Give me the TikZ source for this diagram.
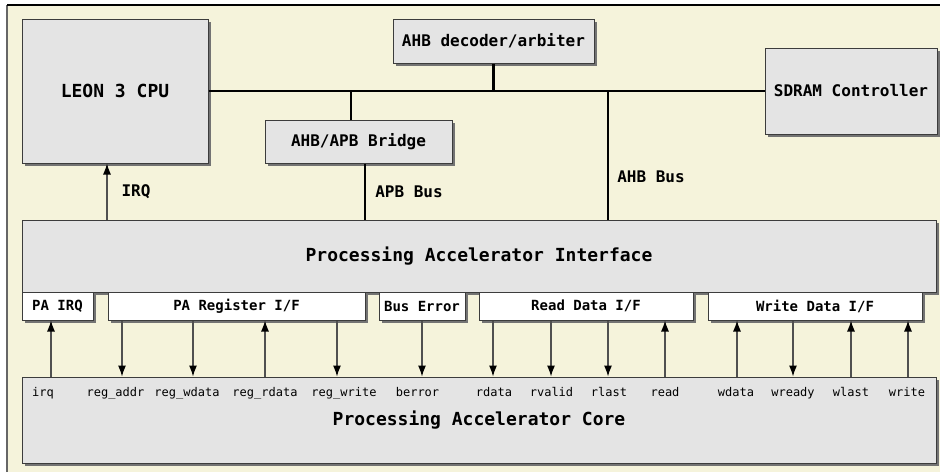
\documentclass[tikz,border=0pt]{standalone}
\usepackage{fontspec}
\setmainfont{DejaVu Sans Mono}
\setmonofont{DejaVu Sans Mono}
\usepackage{xcolor}
\usepackage{tikz}
\usetikzlibrary{arrows.meta, positioning, calc, shadows}
\definecolor{PACream}{HTML}{F5F3DB}
\definecolor{PAGrey}{HTML}{E4E4E4}
\definecolor{PAEdge}{HTML}{3C3C3C}
\definecolor{PAWire}{HTML}{505050}

\begin{document}
\begin{tikzpicture}[x=1pt, y=-1pt, >={Latex[length=11pt,width=8pt,color=black]}]
    \tikzstyle{block} = [rectangle, draw=PAEdge, fill=PAGrey, line width=1pt, align=center, inner sep=0pt, font=\fontsize{16}{18}\selectfont\bfseries, drop shadow={shadow xshift=2.6pt, shadow yshift=-2.6pt, fill=black!55, opacity=1}]
    \tikzstyle{bigblock} = [block, font=\fontsize{18}{20}\selectfont\bfseries]
    \tikzstyle{port} = [block, fill=white, font=\fontsize{14}{16}\selectfont\bfseries]
    \tikzstyle{bus} = [draw, line width=2.6pt, black]
    \tikzstyle{sig} = [draw, line width=1.2pt, PAWire]
    \tikzstyle{buslabel} = [right, inner sep=0pt, text=black, font=\fontsize{16}{18}\selectfont\bfseries]
    \tikzstyle{siglabel} = [anchor=base, inner sep=0pt, font=\fontsize{12}{14}\selectfont]

    \useasboundingbox (0,0) rectangle (940,472);
    \fill[PACream] (7,5) rectangle (940,472);
    \draw[black!60, line width=1.2pt] (7,472) -- (7,5);
    \draw[black, line width=1.2pt] (7,5) -- (940,5);

    \node [bigblock, minimum width=186, minimum height=144] (cpu) at (115,91) {LEON 3 CPU};
    \node [block, minimum width=201, minimum height=44] (dec) at (493.5,41) {AHB decoder/arbiter};
    \node [block, minimum width=172, minimum height=86] (sdram) at (851,91) {SDRAM Controller};
    \node [block, minimum width=187, minimum height=43] (bridge) at (358.5,141.5) {AHB/APB Bridge};
    \node [bigblock, minimum width=914, minimum height=72] (pai) at (479,256) {Processing Accelerator Interface};
    \node [bigblock, minimum width=914, minimum height=86] (core) at (479,420) {Processing Accelerator Core};

    \node [port, minimum width=71, minimum height=28] (pairq) at (57.5,306) {PA IRQ};
    \node [port, minimum width=257, minimum height=28] (pareg) at (236.5,306) {PA Register I/F};
    \node [port, minimum width=86, minimum height=28] (buserr) at (422,306) {Bus Error};
    \node [port, minimum width=214, minimum height=28] (rdif) at (586,306) {Read Data I/F};
    \node [port, minimum width=214, minimum height=28] (wrif) at (815,306) {Write Data I/F};

    \coordinate (tapbr) at (351,91);
    \coordinate (tapahb) at (608,91);
    \coordinate (apbx) at (365,0);
    \coordinate (irqx) at (107,0);

    \path [bus] (cpu.east) -- (sdram.west);
    \path [bus] (dec.south) -- (dec.south |- cpu.east);
    \path [bus] (tapbr) -- (tapbr |- bridge.north);
    \path [bus] (bridge.south -| apbx) -- (pai.north -| apbx) node [buslabel, midway, xshift=9pt] {APB Bus};
    \path [bus] (tapahb) -- (tapahb |- pai.north) node [buslabel, pos=0.67, xshift=8pt] {AHB Bus};
    \path [sig, ->] (pai.north -| irqx) -- (cpu.south -| irqx) node [buslabel, midway, xshift=14pt] {IRQ};

    \foreach \x/\b in {122/pareg, 193/pareg, 337/pareg, 422/buserr, 493/rdif, 551/rdif, 608/rdif, 793/wrif}
        \path [sig, ->] (\b.south -| \x,0) -- (core.north -| \x,0);
    \foreach \x/\b in {51/pairq, 265/pareg, 665/rdif, 737/wrif, 851/wrif, 908/wrif}
        \path [sig, <-] (\b.south -| \x,0) -- (core.north -| \x,0);

    \foreach \lx/\txt [count=\i] in {43/irq, 115.5/reg\_addr, 187/reg\_wdata, 265/reg\_rdata, 344/reg\_write, 417.5/berror, 494/rdata, 551.5/rvalid, 609/rlast, 665/read, 736/wdata, 793/wready, 851/wlast, 907/write}
        \node [siglabel] (lab\i) at (\lx,396) {\txt};
\end{tikzpicture}
\end{document}
